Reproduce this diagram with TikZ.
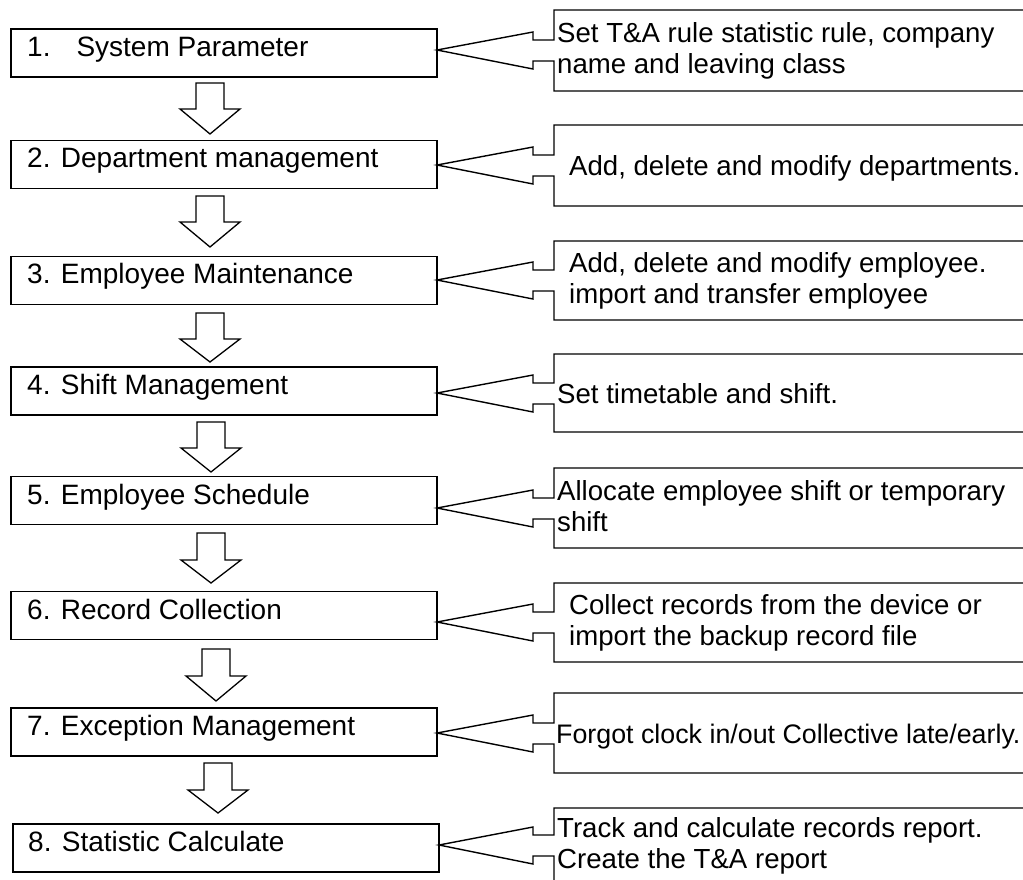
\documentclass[tikz,border=0pt]{standalone}
\usepackage{fontspec}
\setmainfont{Liberation Sans}
\newcommand\calloutpath[4]{% #1 tip x, #2 top, #3 tip y, #4 bottom
  \draw[callout] (1040,#2) -- (554,#2) -- (554,#3-10) -- (533,#3-10) -- (533,#3-18)
    -- (#1,#3) -- (533,#3+19) -- (533,#3+11) -- (554,#3+11) -- (554,#4) -- (1040,#4);}
\newcommand\blockarrow[4]{% #1 cx, #2 top, #3 shoulder, #4 tip
  \draw[barrow] (#1-14,#2) -- (#1+14,#2) -- (#1+14,#3) -- (#1+30,#3) -- (#1,#4)
    -- (#1-30,#3) -- (#1-14,#3) -- cycle;}
\begin{document}
\begin{tikzpicture}[x=1pt,y=-1pt,
  lbox/.style={draw, line width=1.4pt, minimum width=426pt, minimum height=48pt, inner sep=0pt},
  ltext/.style={anchor=base west, inner sep=0pt, font=\fontsize{28pt}{32pt}\selectfont},
  rtext/.style={anchor=base west, inner sep=0pt, font=\fontsize{27.6pt}{31pt}\selectfont},
  callout/.style={draw, line width=1.4pt, line join=miter},
  barrow/.style={draw, line width=1.3pt, fill=white, line join=miter}]
\useasboundingbox (0,0) rectangle (1023,879);
\fill[white] (0,0) rectangle (1023,879);
\clip (0,0) rectangle (1023,879);

% left step boxes
\node[lbox] (b1) at (224,53) {};
\node[lbox] (b2) at (224,164.5) {};
\node[lbox] (b3) at (224,280.5) {};
\node[lbox] (b4) at (224,391) {};
\node[lbox] (b5) at (224,500.5) {};
\node[lbox] (b6) at (224,615.5) {};
\node[lbox] (b7) at (224,732) {};
\node[lbox] (b8) at (226,848) {};

\node[ltext] (t1) at (27,56.5) {1.\hspace{26pt}System Parameter};
\node[ltext] (t2) at (27,167.5) {2. Department management};
\node[ltext] (t3) at (27,283.5) {3. Employee Maintenance};
\node[ltext] (t4) at (27,394.5) {4. Shift Management};
\node[ltext] (t5) at (27,504.5) {5. Employee Schedule};
\node[ltext] (t6) at (27,619.5) {6. Record Collection};
\node[ltext] (t7) at (27,735.5) {7. Exception Management};
\node[ltext] (t8) at (28,851.5) {8. Statistic Calculate};

% block arrows
\blockarrow{210}{83}{109}{134}
\blockarrow{210}{196}{222}{247}
\blockarrow{210}{313}{339}{362}
\blockarrow{211}{422}{448}{472}
\blockarrow{211}{533}{560}{583}
\blockarrow{216}{649}{676}{701}
\blockarrow{218}{763}{790}{813}

% callouts
\calloutpath{437}{10}{50}{91}
\calloutpath{437}{125}{165}{206}
\calloutpath{437}{241}{280}{320}
\calloutpath{437}{354}{393}{432}
\calloutpath{437}{468}{508}{548}
\calloutpath{437}{583}{622}{662}
\calloutpath{437}{693}{733}{773}
\calloutpath{439}{808}{845}{900}

% callout texts
\node[rtext] (r1a) at (557,42) {Set T\&A rule statistic rule, company};
\node[rtext] (r1b) at (557,73) {name and leaving class};
\node[rtext] (r2) at (569,175) {Add, delete and modify departments.};
\node[rtext] (r3a) at (569,272) {Add, delete and modify employee.};
\node[rtext] (r3b) at (569,303) {import and transfer employee};
\node[rtext] (r4) at (557,403) {Set timetable and shift.};
\node[rtext] (r5a) at (557,500) {Allocate employee shift or temporary};
\node[rtext] (r5b) at (557,531) {shift};
\node[rtext] (r6a) at (569,614) {Collect records from the device or};
\node[rtext] (r6b) at (569,645) {import the backup record file};
\node[rtext, font=\fontsize{26.8pt}{31pt}\selectfont] (r7) at (556,743) {Forgot clock in/out Collective late/early.};
\node[rtext] (r8a) at (557,837) {Track and calculate records report.};
\node[rtext] (r8b) at (557,868) {Create the T\&A report};
\end{tikzpicture}
\end{document}
